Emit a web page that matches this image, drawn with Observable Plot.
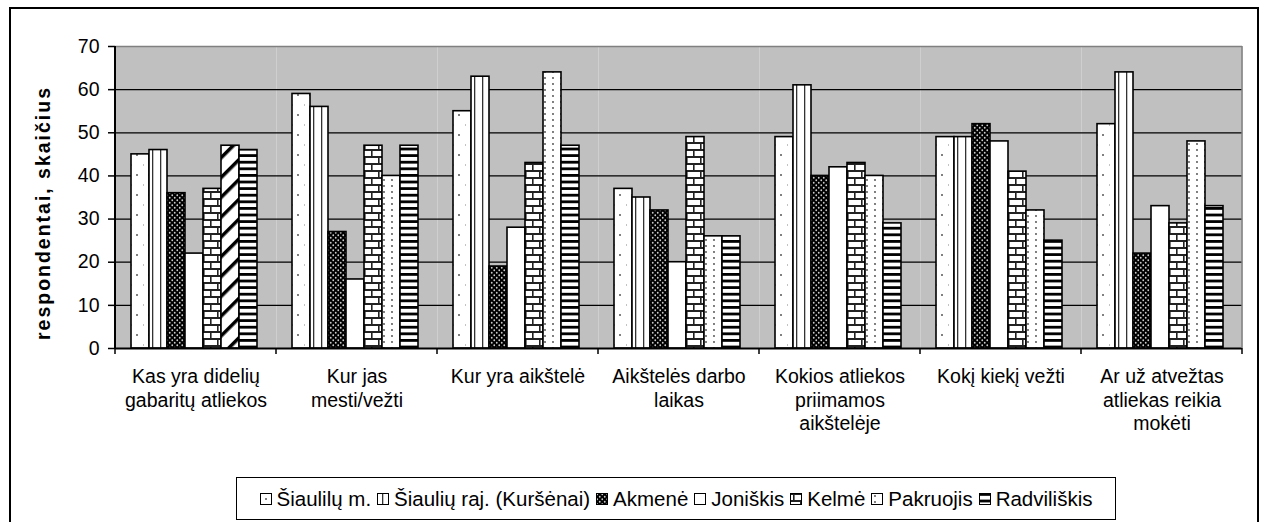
<!DOCTYPE html>
<html><head><meta charset="utf-8">
<script src="https://cdn.jsdelivr.net/npm/d3@7"></script>
<script src="https://cdn.jsdelivr.net/npm/@observablehq/plot@0.6"></script>
<style>
html,body{margin:0;padding:0;overflow:hidden;background:white;font-family:"Liberation Sans",Arial,sans-serif;}
#border{position:absolute;left:9px;top:7px;width:1246px;height:540px;border:2px solid black;}
#chart{position:absolute;left:11px;top:9px;}
#legend{position:absolute;left:236px;top:477px;width:878px;height:41px;border:1px solid black;background:white;display:flex;align-items:center;justify-content:center;font-size:20.5px;color:black;white-space:nowrap;}
.item{display:inline-flex;align-items:center;margin:0 3px;}
.item svg{margin-right:5px;}
</style></head>
<body>
<svg width="0" height="0" style="position:absolute">
<defs>
 <pattern id="p-dots" width="12" height="20" patternUnits="userSpaceOnUse">
   <rect width="12" height="20" fill="white"/>
   <circle cx="6" cy="6" r="1" fill="#555"/>
   <circle cx="0" cy="16" r="0.8" fill="#777"/>
 </pattern>
 <pattern id="p-vert" width="8" height="8" patternUnits="userSpaceOnUse">
   <rect width="8" height="8" fill="white"/>
   <rect x="5" width="1.3" height="8" fill="#333"/>
 </pattern>
 <pattern id="p-blackdots" width="5" height="5" patternUnits="userSpaceOnUse">
   <rect width="5" height="5" fill="black"/>
   <circle cx="1.25" cy="1.25" r="0.9" fill="#ccc"/>
   <circle cx="3.75" cy="3.75" r="0.9" fill="#ccc"/>
 </pattern>
 <pattern id="p-white" width="8" height="8" patternUnits="userSpaceOnUse">
   <rect width="8" height="8" fill="white"/>
 </pattern>
 <pattern id="p-brick" width="14" height="14" patternUnits="userSpaceOnUse">
   <rect width="14" height="14" fill="white"/>
   <rect y="0" width="14" height="2" fill="#222"/>
   <rect y="7" width="14" height="2" fill="#222"/>
   <rect x="3" y="0" width="1.6" height="7" fill="#222"/>
   <rect x="10" y="7" width="1.6" height="7" fill="#222"/>
 </pattern>
 <pattern id="p-smalldots" width="8" height="6" patternUnits="userSpaceOnUse">
   <rect width="8" height="6" fill="white"/>
   <circle cx="4" cy="3" r="0.9" fill="#444"/>
 </pattern>
 <pattern id="p-diag" width="14" height="14" patternUnits="userSpaceOnUse" patternTransform="rotate(45)">
   <rect width="14" height="14" fill="white"/>
   <rect x="0" width="3.5" height="14" fill="black"/>
 </pattern>
 <pattern id="p-hstripe" width="8" height="6.6" patternUnits="userSpaceOnUse">
   <rect width="8" height="6.6" fill="white"/>
   <rect y="0" width="8" height="2.8" fill="black"/>
 </pattern>
</defs></svg>
<div id="border"></div>
<div id="chart"></div>
<div id="legend"></div>
<script>
// ---- data ----
const categories = [
  "Kas yra didelių gabaritų atliekos",
  "Kur jas mesti/vežti",
  "Kur yra aikštelė",
  "Aikštelės darbo laikas",
  "Kokios atliekos priimamos aikštelėje",
  "Kokį kiekį vežti",
  "Ar už atvežtas atliekas reikia mokėti"
];
const categoryLabels = [
  "Kas yra didelių\ngabaritų atliekos",
  "Kur jas\nmesti/vežti",
  "Kur yra aikštelė",
  "Aikštelės darbo\nlaikas",
  "Kokios atliekos\npriimamos\naikštelėje",
  "Kokį kiekį vežti",
  "Ar už atvežtas\natliekas reikia\nmokėti"
];
const series = ["Šiaulilų m.", "Šiaulių raj. (Kuršėnai)", "Akmenė", "Joniškis", "Kelmė", "Pakruojis", "Radviliškis"];
const siauliaiM   = [45, 59, 55, 37, 49, 49, 52];
const siauliaiRaj = [46, 56, 63, 35, 61, 49, 64];
const akmene      = [36, 27, 19, 32, 40, 52, 22];
const joniskis    = [22, 16, 28, 20, 42, 48, 33];
const kelme       = [37, 47, 43, 49, 43, 41, 29];
const pakruojis   = [47, 40, 64, 26, 40, 32, 48];
const radviliskis = [46, 47, 47, 26, 29, 25, 33];
const yTicks = [0, 10, 20, 30, 40, 50, 60, 70];
const yTitle = "respondentai, skaičius";

// ---- styles ----
const seriesValues = [siauliaiM, siauliaiRaj, akmene, joniskis, kelme, pakruojis, radviliskis];
const patterns = ["p-dots", "p-vert", "p-blackdots", "p-white", "p-brick", "p-smalldots", "p-hstripe"];
const specialPoint = {category: categories[0], series: "Pakruojis", pattern: "p-diag"};

const data = categories.flatMap((c, i) => series.map((s, j) => ({category: c, series: s, value: seriesValues[j][i]})));
const fillFor = d => (d.category === specialPoint.category && d.series === specialPoint.series)
  ? `url(#${specialPoint.pattern})` : `url(#${patterns[series.indexOf(d.series)]})`;

const font = "'Liberation Sans', Arial, sans-serif";
const chart = Plot.plot({
  width: 1246, height: 460,
  marginLeft: 104, marginRight: 15, marginTop: 37, marginBottom: 121,
  style: {fontFamily: font, fontSize: "19.5px", color: "black", background: "white"},
  fx: {domain: categories, padding: 0, label: null},
  x: {domain: series, paddingInner: 0, paddingOuter: 0.74, align: 0.45, axis: null},
  y: {domain: [0, 70], label: null},
  color: {type: "identity"},
  marks: [
    Plot.frame({fill: "#c0c0c0", stroke: null}),
    Plot.ruleY(yTicks.filter(t => t > 0 && t < 70), {stroke: "black", strokeWidth: 1.3}),
    Plot.ruleY([70], {stroke: "#808080", strokeWidth: 1.5}),
    Plot.barY(data, {fx: "category", x: "series", y: "value", fill: fillFor, stroke: "black", strokeWidth: 1.6}),
    Plot.ruleY([0], {stroke: "black", strokeWidth: 2}),
    Plot.axisY({ticks: yTicks, tickSize: 7, tickPadding: 9, fontSize: 19.5, label: null, stroke: "black", strokeWidth: 1.5}),
    Plot.axisFx({anchor: "bottom", tickSize: 0, tickPadding: 18, fontSize: 19.5, lineHeight: 1.2, label: null,
      tickFormat: c => categoryLabels[categories.indexOf(c)]})
  ]
});
document.getElementById("chart").appendChild(chart);

// group boundary ticks, y-axis line, right edge, y title
const svg = d3.select(chart);
const fx = chart.scale("fx"), y = chart.scale("y");
const y0 = y.apply(0), yTop = y.apply(70);
const bounds = categories.map(c => fx.apply(c)).concat([fx.apply(categories[categories.length - 1]) + fx.bandwidth]);
const g = svg.append("g");
g.selectAll("line.b").data(bounds).join("line")
  .attr("x1", d => d).attr("x2", d => d).attr("y1", y0).attr("y2", y0 + 6)
  .attr("stroke", "black").attr("stroke-width", 1.5);
g.append("line").attr("x1", bounds[0]).attr("x2", bounds[0]).attr("y1", yTop).attr("y2", y0 + 1)
  .attr("stroke", "black").attr("stroke-width", 2);
g.append("line").attr("x1", bounds[bounds.length - 1]).attr("x2", bounds[bounds.length - 1]).attr("y1", yTop).attr("y2", y0)
  .attr("stroke", "#808080").attr("stroke-width", 1.5);
g.append("text").text(yTitle)
  .attr("transform", `translate(34,${(yTop + y0) / 2 + 17}) rotate(-90)`)
  .attr("text-anchor", "middle").attr("dominant-baseline", "middle")
  .attr("textLength", 252).attr("lengthAdjust", "spacing")
  .attr("font-weight", "bold").attr("font-size", 19.5).attr("fill", "black");

// legend
const legend = d3.select("#legend");
series.forEach((s, j) => {
  const item = legend.append("span").attr("class", "item");
  const sw = item.append("svg").attr("width", 12).attr("height", 12);
  sw.append("rect").attr("x", 0.5).attr("y", 0.5).attr("width", 11).attr("height", 11)
    .attr("fill", `url(#${patterns[j]})`).attr("stroke", "black").attr("stroke-width", 1);
  item.append("span").text(s);
});
</script>
</body></html>
